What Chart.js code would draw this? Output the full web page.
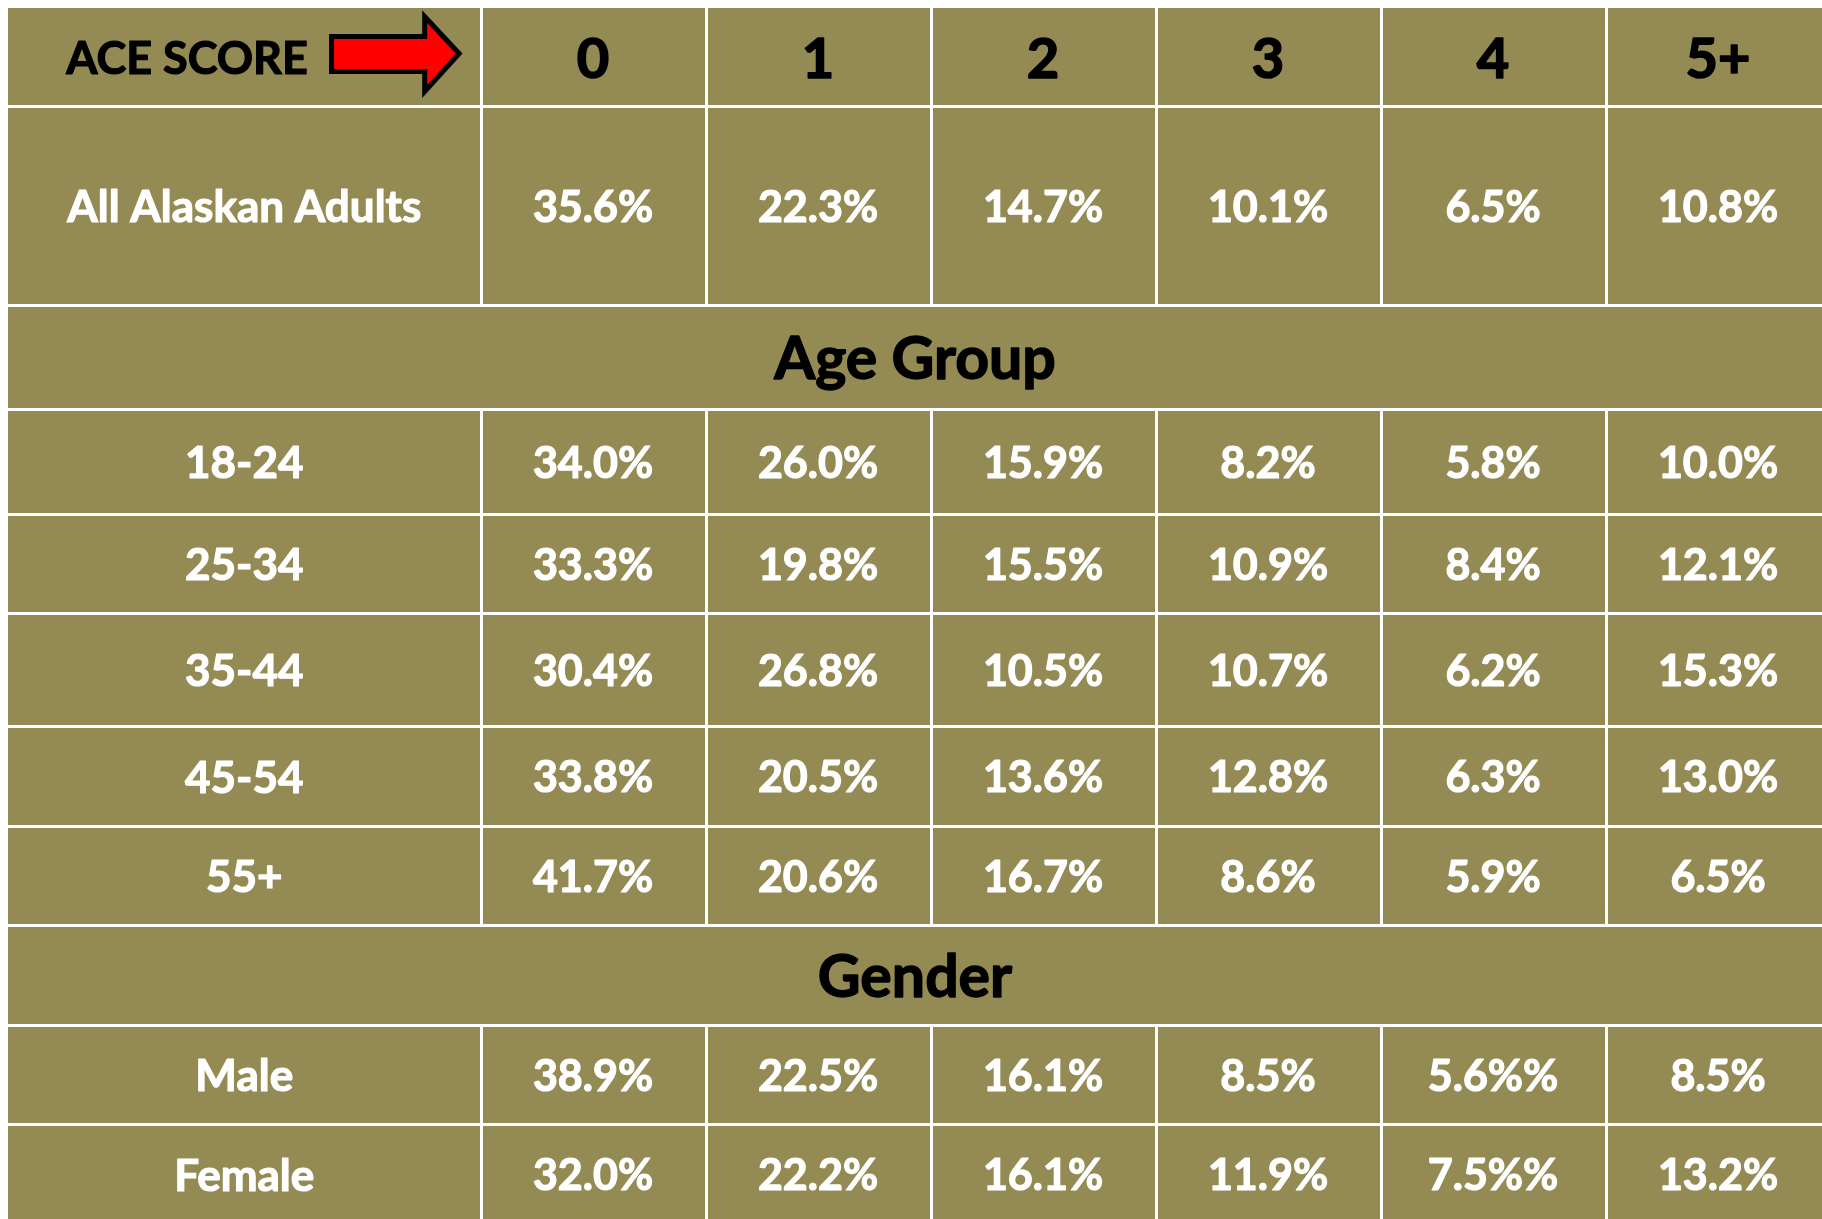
<!DOCTYPE html>
<html>
<head>
<meta charset="utf-8">
<script src="https://cdn.jsdelivr.net/npm/chart.js@4.4.1/dist/chart.umd.min.js"></script>
<style>
  html, body { margin: 0; padding: 0; background: #ffffff; }
  #wrap { width: 1822px; height: 1219px; }
</style>
</head>
<body>
<div id="wrap"><canvas id="c" width="1822" height="1219"></canvas></div>
<script>
// ---------- data ----------
const headerLabel = 'ACE SCORE';
const scoreLabels = ['0', '1', '2', '3', '4', '5+'];
const sectionLabels = ['Age Group', 'Gender'];
const rowLabels = ['All Alaskan Adults', '18-24', '25-34', '35-44', '45-54', '55+', 'Male', 'Female'];

const allAdults = [35.6, 22.3, 14.7, 10.1, 6.5, 10.8];
const age18to24 = [34.0, 26.0, 15.9, 8.2, 5.8, 10.0];
const age25to34 = [33.3, 19.8, 15.5, 10.9, 8.4, 12.1];
const age35to44 = [30.4, 26.8, 10.5, 10.7, 6.2, 15.3];
const age45to54 = [33.8, 20.5, 13.6, 12.8, 6.3, 13.0];
const age55plus = [41.7, 20.6, 16.7, 8.6, 5.9, 6.5];
const male = [38.9, 22.5, 16.1, 8.5, 5.6, 8.5];
const female = [32.0, 22.2, 16.1, 11.9, 7.5, 13.2];
// cells printed with a doubled percent sign in the source table: [row label, score index]
const doubledPercentCells = [['Male', 4], ['Female', 4]];

// ---------- layout (scale units) ----------
// table rows top-to-bottom: header, All adults, section, 5 age rows, section, male, female
const rowKinds = ['header', 'data', 'section', 'data', 'data', 'data', 'data', 'data', 'section', 'data', 'data'];
const rowEdges = [0, 0.98, 2.97, 4.01, 5.06, 6.05, 7.18, 8.18, 9.17, 10.17, 11.16, 12.16];
const labelColWidth = 2.1;   // in data-column units
const X_MAX = 8.062, Y_MAX = 12.11;

const OLIVE = '#948A54';
const FONT = 'Lato, "Open Sans", sans-serif';

const dataRows = [allAdults, age18to24, age25to34, age35to44, age45to54, age55plus, male, female];

// build point data (cell centres) from the arrays
const points = [];
let dataRowIdx = 0, sectionIdx = 0;
rowKinds.forEach((kind, r) => {
  const yc = (rowEdges[r] + rowEdges[r + 1]) / 2;
  if (kind === 'header') {
    points.push({ x: labelColWidth / 2, y: yc, kind: 'aceLabel', text: headerLabel });
    scoreLabels.forEach((s, c) => points.push({ x: labelColWidth + c + 0.5, y: yc, kind: 'score', text: s }));
  } else if (kind === 'section') {
    points.push({ x: X_MAX / 2, y: yc, kind: 'section', text: sectionLabels[sectionIdx++] });
  } else {
    const label = rowLabels[dataRowIdx];
    points.push({ x: labelColWidth / 2, y: yc, kind: 'rowLabel', text: label });
    dataRows[dataRowIdx].forEach((v, c) => {
      const dbl = doubledPercentCells.some(d => d[0] === label && d[1] === c);
      points.push({ x: labelColWidth + c + 0.5, y: yc, kind: 'value', text: v.toFixed(1) + (dbl ? '%%' : '%') });
    });
    dataRowIdx++;
  }
});

const fontSpec = {
  aceLabel: { size: 45, color: '#000000', stroke: 1.2 },
  score:    { size: 56, color: '#000000', stroke: 1.6 },
  section:  { size: 59, color: '#000000', stroke: 1.4 },
  rowLabel: { size: 44, color: '#ffffff', stroke: 1.2 },
  value:    { size: 43, color: '#ffffff', stroke: 1.2 }
};

const tablePlugin = {
  id: 'tablePlugin',
  beforeDatasetsDraw(chart) {
    const { ctx, chartArea: a, scales: { x, y } } = chart;
    ctx.save();
    // cell background
    ctx.fillStyle = OLIVE;
    ctx.fillRect(a.left, a.top, a.right - a.left, a.bottom - a.top);
    // grid
    ctx.strokeStyle = '#ffffff';
    ctx.lineWidth = 3;
    ctx.beginPath();
    for (let i = 1; i < rowEdges.length - 1; i++) {
      const py = Math.round(y.getPixelForValue(rowEdges[i])) + 0.5;
      ctx.moveTo(a.left, py); ctx.lineTo(a.right, py);
    }
    rowKinds.forEach((kind, r) => {
      if (kind === 'section') return;
      const y0 = y.getPixelForValue(rowEdges[r]);
      const y1 = y.getPixelForValue(rowEdges[r + 1]);
      for (let c = 0; c < scoreLabels.length; c++) {
        const px = Math.round(x.getPixelForValue(labelColWidth + c)) + 0.5;
        ctx.moveTo(px, y0); ctx.lineTo(px, y1);
      }
    });
    ctx.stroke();
    ctx.restore();
  },
  afterDatasetsDraw(chart) {
    const { ctx, scales: { x, y } } = chart;
    ctx.save();
    chart.data.datasets[0].data.forEach(p => {
      const f = fontSpec[p.kind];
      ctx.font = 'bold ' + f.size + 'px ' + FONT;
      ctx.fillStyle = f.color;
      ctx.strokeStyle = f.color;
      ctx.lineWidth = f.stroke;
      ctx.lineJoin = 'round';
      ctx.textBaseline = 'alphabetic';
      const capH = f.size * 0.72;
      const cy = y.getPixelForValue(p.y) + 1 + capH / 2;
      if (p.kind === 'aceLabel') {
        // label + arrow group in the header's first cell
        ctx.textAlign = 'right';
        ctx.fillText(p.text, x.getPixelForValue(1.333), cy);
        ctx.strokeText(p.text, x.getPixelForValue(1.333), cy);
        const X = v => x.getPixelForValue(v);
        const Y = v => y.getPixelForValue(v);
        ctx.beginPath();
        ctx.moveTo(X(1.438), Y(0.285));
        ctx.lineTo(X(1.852), Y(0.285));
        ctx.lineTo(X(1.852), Y(0.085));
        ctx.lineTo(X(2.005), Y(0.455));
        ctx.lineTo(X(1.852), Y(0.835));
        ctx.lineTo(X(1.852), Y(0.635));
        ctx.lineTo(X(1.438), Y(0.635));
        ctx.closePath();
        ctx.fillStyle = '#FF0000';
        ctx.fill();
        ctx.lineWidth = 5;
        ctx.lineJoin = 'miter';
        ctx.strokeStyle = '#000000';
        ctx.stroke();
      } else {
        ctx.textAlign = 'center';
        const cx = p.kind === 'section' ? (chart.chartArea.left + chart.chartArea.right) / 2 : x.getPixelForValue(p.x);
        ctx.fillText(p.text, cx, cy);
        ctx.strokeText(p.text, cx, cy);
      }
    });
    ctx.restore();
  }
};

function build() {
  new Chart(document.getElementById('c'), {
    type: 'scatter',
    data: { datasets: [{ data: points, pointRadius: 0, pointHoverRadius: 0 }] },
    options: {
      responsive: false,
      animation: false,
      devicePixelRatio: 1,
      layout: { padding: { left: 8, top: 8, right: 0, bottom: 0 } },
      plugins: { legend: { display: false }, tooltip: { enabled: false } },
      events: [],
      scales: {
        x: { type: 'linear', min: 0, max: X_MAX, display: false },
        y: { type: 'linear', min: 0, max: Y_MAX, reverse: true, display: false }
      }
    },
    plugins: [tablePlugin]
  });
}
if (document.fonts && document.fonts.load) {
  Promise.all([document.fonts.load('bold 40px Lato')]).then(build, build);
} else { build(); }
</script>
</body>
</html>
